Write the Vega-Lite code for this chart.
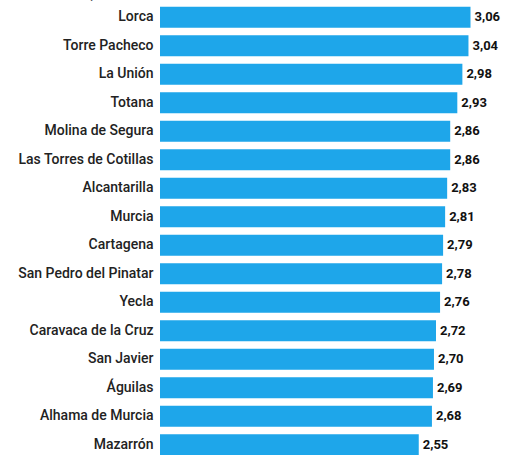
{
  "$schema": "https://vega.github.io/schema/vega-lite/v6.json",
  "autosize": "none",
  "width": 345,
  "height": 456,
  "padding": {"left": 160, "top": 3, "right": 2, "bottom": 0},
  "background": "white",
  "title": {"text": "Número de personas. 2020", "anchor": "start", "frame": "bounds", "font": "Roboto", "fontSize": 14, "fontWeight": "normal", "color": "#555", "offset": 2},
  "data": {"values": [
    {"municipio": "Lorca", "valor": 3.06, "etiqueta": "3,06"},
    {"municipio": "Torre Pacheco", "valor": 3.04, "etiqueta": "3,04"},
    {"municipio": "La Unión", "valor": 2.98, "etiqueta": "2,98"},
    {"municipio": "Totana", "valor": 2.93, "etiqueta": "2,93"},
    {"municipio": "Molina de Segura", "valor": 2.86, "etiqueta": "2,86"},
    {"municipio": "Las Torres de Cotillas", "valor": 2.86, "etiqueta": "2,86"},
    {"municipio": "Alcantarilla", "valor": 2.83, "etiqueta": "2,83"},
    {"municipio": "Murcia", "valor": 2.81, "etiqueta": "2,81"},
    {"municipio": "Cartagena", "valor": 2.79, "etiqueta": "2,79"},
    {"municipio": "San Pedro del Pinatar", "valor": 2.78, "etiqueta": "2,78"},
    {"municipio": "Yecla", "valor": 2.76, "etiqueta": "2,76"},
    {"municipio": "Caravaca de la Cruz", "valor": 2.72, "etiqueta": "2,72"},
    {"municipio": "San Javier", "valor": 2.70, "etiqueta": "2,70"},
    {"municipio": "Águilas", "valor": 2.69, "etiqueta": "2,69"},
    {"municipio": "Alhama de Murcia", "valor": 2.68, "etiqueta": "2,68"},
    {"municipio": "Mazarrón", "valor": 2.55, "etiqueta": "2,55"}
  ]},
  "encoding": {
    "y": {"field": "municipio", "type": "nominal", "sort": null,
      "scale": {"paddingInner": 0.26, "paddingOuter": 0.13},
      "axis": {"title": null, "domain": false, "ticks": false, "labelPadding": 7, "labelFont": "Roboto", "labelFontSize": 14, "labelFontWeight": 500, "labelColor": "#222", "labelLimit": 200}},
    "x": {"field": "valor", "type": "quantitative", "scale": {"domain": [0, 3.4], "nice": false}, "axis": null}
  },
  "layer": [
    {"mark": {"type": "bar", "color": "#1EA6EA"}},
    {"mark": {"type": "text", "align": "left", "dx": 4, "font": "Roboto", "fontSize": 13, "fontWeight": "bold", "color": "#111"},
     "encoding": {"text": {"field": "etiqueta"}}}
  ],
  "config": {"view": {"stroke": null}}
}
